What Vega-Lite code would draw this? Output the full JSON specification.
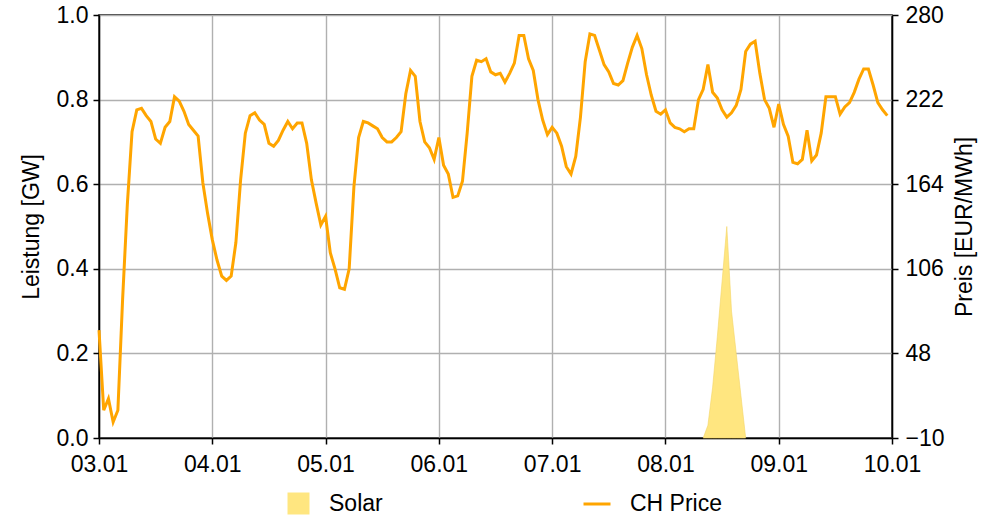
{
  "$schema": "https://vega.github.io/schema/vega-lite/v6.json",
  "width": 793,
  "height": 423,
  "autosize": {"type": "none"},
  "padding": {"left": 99, "top": 15, "right": 101, "bottom": 84},
  "background": "white",
  "config": {
    "font": "Liberation Sans",
    "view": {"stroke": "black", "strokeWidth": 1.5},
    "axis": {
      "labelFont": "Liberation Sans",
      "titleFont": "Liberation Sans",
      "labelFontSize": 23,
      "labelColor": "black",
      "titleFontSize": 23,
      "titleFontWeight": "normal",
      "titleColor": "black",
      "domainColor": "black",
      "domainWidth": 1.5,
      "tickColor": "black",
      "tickWidth": 1.5,
      "tickSize": 6,
      "gridColor": "#b0b0b0",
      "gridWidth": 1.4,
      "gridOpacity": 1
    },
    "legend": {
      "labelFont": "Liberation Sans",
      "labelFontSize": 23,
      "labelColor": "black",
      "padding": 0
    }
  },
  "datasets": {
    "solar": [
      {"time": "2025-01-08T08:00:00Z", "solar": 0},
      {"time": "2025-01-08T09:00:00Z", "solar": 0.03},
      {"time": "2025-01-08T10:00:00Z", "solar": 0.12},
      {"time": "2025-01-08T11:00:00Z", "solar": 0.24},
      {"time": "2025-01-08T12:00:00Z", "solar": 0.37},
      {"time": "2025-01-08T13:00:00Z", "solar": 0.5},
      {"time": "2025-01-08T14:00:00Z", "solar": 0.3},
      {"time": "2025-01-08T15:00:00Z", "solar": 0.2},
      {"time": "2025-01-08T16:00:00Z", "solar": 0.1},
      {"time": "2025-01-08T17:00:00Z", "solar": 0}
    ],
    "price": [
      {"time": "2025-01-03T00:00:00Z", "price": 64},
      {"time": "2025-01-03T01:00:00Z", "price": 9},
      {"time": "2025-01-03T02:00:00Z", "price": 17},
      {"time": "2025-01-03T03:00:00Z", "price": 1},
      {"time": "2025-01-03T04:00:00Z", "price": 9},
      {"time": "2025-01-03T05:00:00Z", "price": 85},
      {"time": "2025-01-03T06:00:00Z", "price": 150},
      {"time": "2025-01-03T07:00:00Z", "price": 200},
      {"time": "2025-01-03T08:00:00Z", "price": 215},
      {"time": "2025-01-03T09:00:00Z", "price": 216},
      {"time": "2025-01-03T10:00:00Z", "price": 211},
      {"time": "2025-01-03T11:00:00Z", "price": 207},
      {"time": "2025-01-03T12:00:00Z", "price": 195},
      {"time": "2025-01-03T13:00:00Z", "price": 192},
      {"time": "2025-01-03T14:00:00Z", "price": 203},
      {"time": "2025-01-03T15:00:00Z", "price": 207},
      {"time": "2025-01-03T16:00:00Z", "price": 224},
      {"time": "2025-01-03T17:00:00Z", "price": 221},
      {"time": "2025-01-03T18:00:00Z", "price": 214},
      {"time": "2025-01-03T19:00:00Z", "price": 205},
      {"time": "2025-01-03T20:00:00Z", "price": 201},
      {"time": "2025-01-03T21:00:00Z", "price": 197},
      {"time": "2025-01-03T22:00:00Z", "price": 165},
      {"time": "2025-01-03T23:00:00Z", "price": 144},
      {"time": "2025-01-04T00:00:00Z", "price": 126},
      {"time": "2025-01-04T01:00:00Z", "price": 112},
      {"time": "2025-01-04T02:00:00Z", "price": 101},
      {"time": "2025-01-04T03:00:00Z", "price": 98},
      {"time": "2025-01-04T04:00:00Z", "price": 101},
      {"time": "2025-01-04T05:00:00Z", "price": 124},
      {"time": "2025-01-04T06:00:00Z", "price": 167},
      {"time": "2025-01-04T07:00:00Z", "price": 199},
      {"time": "2025-01-04T08:00:00Z", "price": 211},
      {"time": "2025-01-04T09:00:00Z", "price": 213},
      {"time": "2025-01-04T10:00:00Z", "price": 208},
      {"time": "2025-01-04T11:00:00Z", "price": 205},
      {"time": "2025-01-04T12:00:00Z", "price": 192},
      {"time": "2025-01-04T13:00:00Z", "price": 190},
      {"time": "2025-01-04T14:00:00Z", "price": 194},
      {"time": "2025-01-04T15:00:00Z", "price": 201},
      {"time": "2025-01-04T16:00:00Z", "price": 207},
      {"time": "2025-01-04T17:00:00Z", "price": 202},
      {"time": "2025-01-04T18:00:00Z", "price": 206},
      {"time": "2025-01-04T19:00:00Z", "price": 206},
      {"time": "2025-01-04T20:00:00Z", "price": 192},
      {"time": "2025-01-04T21:00:00Z", "price": 167},
      {"time": "2025-01-04T22:00:00Z", "price": 151},
      {"time": "2025-01-04T23:00:00Z", "price": 136},
      {"time": "2025-01-05T00:00:00Z", "price": 142},
      {"time": "2025-01-05T01:00:00Z", "price": 117},
      {"time": "2025-01-05T02:00:00Z", "price": 106},
      {"time": "2025-01-05T03:00:00Z", "price": 93},
      {"time": "2025-01-05T04:00:00Z", "price": 92},
      {"time": "2025-01-05T05:00:00Z", "price": 106},
      {"time": "2025-01-05T06:00:00Z", "price": 162},
      {"time": "2025-01-05T07:00:00Z", "price": 196},
      {"time": "2025-01-05T08:00:00Z", "price": 207},
      {"time": "2025-01-05T09:00:00Z", "price": 206},
      {"time": "2025-01-05T10:00:00Z", "price": 204},
      {"time": "2025-01-05T11:00:00Z", "price": 202},
      {"time": "2025-01-05T12:00:00Z", "price": 196},
      {"time": "2025-01-05T13:00:00Z", "price": 193},
      {"time": "2025-01-05T14:00:00Z", "price": 193},
      {"time": "2025-01-05T15:00:00Z", "price": 196},
      {"time": "2025-01-05T16:00:00Z", "price": 200},
      {"time": "2025-01-05T17:00:00Z", "price": 226},
      {"time": "2025-01-05T18:00:00Z", "price": 242},
      {"time": "2025-01-05T19:00:00Z", "price": 238},
      {"time": "2025-01-05T20:00:00Z", "price": 207},
      {"time": "2025-01-05T21:00:00Z", "price": 193},
      {"time": "2025-01-05T22:00:00Z", "price": 189},
      {"time": "2025-01-05T23:00:00Z", "price": 181},
      {"time": "2025-01-06T00:00:00Z", "price": 196},
      {"time": "2025-01-06T01:00:00Z", "price": 177},
      {"time": "2025-01-06T02:00:00Z", "price": 171},
      {"time": "2025-01-06T03:00:00Z", "price": 155},
      {"time": "2025-01-06T04:00:00Z", "price": 156},
      {"time": "2025-01-06T05:00:00Z", "price": 166},
      {"time": "2025-01-06T06:00:00Z", "price": 199},
      {"time": "2025-01-06T07:00:00Z", "price": 238},
      {"time": "2025-01-06T08:00:00Z", "price": 249},
      {"time": "2025-01-06T09:00:00Z", "price": 248},
      {"time": "2025-01-06T10:00:00Z", "price": 250},
      {"time": "2025-01-06T11:00:00Z", "price": 241},
      {"time": "2025-01-06T12:00:00Z", "price": 239},
      {"time": "2025-01-06T13:00:00Z", "price": 240},
      {"time": "2025-01-06T14:00:00Z", "price": 234},
      {"time": "2025-01-06T15:00:00Z", "price": 240},
      {"time": "2025-01-06T16:00:00Z", "price": 247},
      {"time": "2025-01-06T17:00:00Z", "price": 266},
      {"time": "2025-01-06T18:00:00Z", "price": 266},
      {"time": "2025-01-06T19:00:00Z", "price": 250},
      {"time": "2025-01-06T20:00:00Z", "price": 242},
      {"time": "2025-01-06T21:00:00Z", "price": 222},
      {"time": "2025-01-06T22:00:00Z", "price": 208},
      {"time": "2025-01-06T23:00:00Z", "price": 198},
      {"time": "2025-01-07T00:00:00Z", "price": 203},
      {"time": "2025-01-07T01:00:00Z", "price": 199},
      {"time": "2025-01-07T02:00:00Z", "price": 190},
      {"time": "2025-01-07T03:00:00Z", "price": 176},
      {"time": "2025-01-07T04:00:00Z", "price": 171},
      {"time": "2025-01-07T05:00:00Z", "price": 183},
      {"time": "2025-01-07T06:00:00Z", "price": 210},
      {"time": "2025-01-07T07:00:00Z", "price": 248},
      {"time": "2025-01-07T08:00:00Z", "price": 267},
      {"time": "2025-01-07T09:00:00Z", "price": 266},
      {"time": "2025-01-07T10:00:00Z", "price": 256},
      {"time": "2025-01-07T11:00:00Z", "price": 246},
      {"time": "2025-01-07T12:00:00Z", "price": 241},
      {"time": "2025-01-07T13:00:00Z", "price": 233},
      {"time": "2025-01-07T14:00:00Z", "price": 232},
      {"time": "2025-01-07T15:00:00Z", "price": 235},
      {"time": "2025-01-07T16:00:00Z", "price": 247},
      {"time": "2025-01-07T17:00:00Z", "price": 258},
      {"time": "2025-01-07T18:00:00Z", "price": 266},
      {"time": "2025-01-07T19:00:00Z", "price": 257},
      {"time": "2025-01-07T20:00:00Z", "price": 239},
      {"time": "2025-01-07T21:00:00Z", "price": 225},
      {"time": "2025-01-07T22:00:00Z", "price": 214},
      {"time": "2025-01-07T23:00:00Z", "price": 212},
      {"time": "2025-01-08T00:00:00Z", "price": 215},
      {"time": "2025-01-08T01:00:00Z", "price": 206},
      {"time": "2025-01-08T02:00:00Z", "price": 203},
      {"time": "2025-01-08T03:00:00Z", "price": 202},
      {"time": "2025-01-08T04:00:00Z", "price": 200},
      {"time": "2025-01-08T05:00:00Z", "price": 202},
      {"time": "2025-01-08T06:00:00Z", "price": 202},
      {"time": "2025-01-08T07:00:00Z", "price": 222},
      {"time": "2025-01-08T08:00:00Z", "price": 229},
      {"time": "2025-01-08T09:00:00Z", "price": 246},
      {"time": "2025-01-08T10:00:00Z", "price": 227},
      {"time": "2025-01-08T11:00:00Z", "price": 223},
      {"time": "2025-01-08T12:00:00Z", "price": 215},
      {"time": "2025-01-08T13:00:00Z", "price": 210},
      {"time": "2025-01-08T14:00:00Z", "price": 213},
      {"time": "2025-01-08T15:00:00Z", "price": 218},
      {"time": "2025-01-08T16:00:00Z", "price": 229},
      {"time": "2025-01-08T17:00:00Z", "price": 255},
      {"time": "2025-01-08T18:00:00Z", "price": 260},
      {"time": "2025-01-08T19:00:00Z", "price": 262},
      {"time": "2025-01-08T20:00:00Z", "price": 240},
      {"time": "2025-01-08T21:00:00Z", "price": 222},
      {"time": "2025-01-08T22:00:00Z", "price": 216},
      {"time": "2025-01-08T23:00:00Z", "price": 203},
      {"time": "2025-01-09T00:00:00Z", "price": 219},
      {"time": "2025-01-09T01:00:00Z", "price": 205},
      {"time": "2025-01-09T02:00:00Z", "price": 197},
      {"time": "2025-01-09T03:00:00Z", "price": 179},
      {"time": "2025-01-09T04:00:00Z", "price": 178},
      {"time": "2025-01-09T05:00:00Z", "price": 181},
      {"time": "2025-01-09T06:00:00Z", "price": 201},
      {"time": "2025-01-09T07:00:00Z", "price": 180},
      {"time": "2025-01-09T08:00:00Z", "price": 184},
      {"time": "2025-01-09T09:00:00Z", "price": 199},
      {"time": "2025-01-09T10:00:00Z", "price": 224},
      {"time": "2025-01-09T11:00:00Z", "price": 224},
      {"time": "2025-01-09T12:00:00Z", "price": 224},
      {"time": "2025-01-09T13:00:00Z", "price": 212},
      {"time": "2025-01-09T14:00:00Z", "price": 217},
      {"time": "2025-01-09T15:00:00Z", "price": 220},
      {"time": "2025-01-09T16:00:00Z", "price": 227},
      {"time": "2025-01-09T17:00:00Z", "price": 236},
      {"time": "2025-01-09T18:00:00Z", "price": 243},
      {"time": "2025-01-09T19:00:00Z", "price": 243},
      {"time": "2025-01-09T20:00:00Z", "price": 232},
      {"time": "2025-01-09T21:00:00Z", "price": 220},
      {"time": "2025-01-09T22:00:00Z", "price": 215},
      {"time": "2025-01-09T23:00:00Z", "price": 211}
    ]
  },
  "layer": [
    {
      "data": {"name": "solar"},
      "mark": {"type": "area", "stroke": "#f3d567", "strokeWidth": 0.6, "interpolate": "linear"},
      "encoding": {
        "x": {
          "field": "time",
          "type": "temporal",
          "scale": {
            "type": "utc",
            "domain": [
              {"year": 2025, "month": 1, "date": 3, "utc": true},
              {"year": 2025, "month": 1, "date": 10, "utc": true}
            ]
          },
          "axis": {
            "title": null,
            "format": "%d.%m",
            "values": [
              {"year": 2025, "month": 1, "date": 3, "utc": true},
              {"year": 2025, "month": 1, "date": 4, "utc": true},
              {"year": 2025, "month": 1, "date": 5, "utc": true},
              {"year": 2025, "month": 1, "date": 6, "utc": true},
              {"year": 2025, "month": 1, "date": 7, "utc": true},
              {"year": 2025, "month": 1, "date": 8, "utc": true},
              {"year": 2025, "month": 1, "date": 9, "utc": true},
              {"year": 2025, "month": 1, "date": 10, "utc": true}
            ],
            "grid": true,
            "labelPadding": 9,
            "labelFlush": false
          }
        },
        "y": {
          "field": "solar",
          "type": "quantitative",
          "scale": {"domain": [0, 1], "nice": false},
          "axis": {
            "title": "Leistung [GW]",
            "values": [0, 0.2, 0.4, 0.6, 0.8, 1.0],
            "format": ".1f",
            "grid": true,
            "labelPadding": 5,
            "titlePadding": 13
          }
        },
        "fill": {
          "datum": "Solar",
          "type": "nominal",
          "scale": {"domain": ["Solar"], "range": ["#ffe680"]},
          "legend": {
            "title": null,
            "orient": "none",
            "legendX": 188,
            "legendY": 477,
            "symbolType": "square",
            "symbolSize": 484,
            "symbolStrokeWidth": 0,
            "symbolOpacity": 1,
            "labelOffset": 19
          }
        }
      }
    },
    {
      "data": {"name": "price"},
      "mark": {"type": "line", "strokeWidth": 3, "interpolate": "linear"},
      "encoding": {
        "x": {"field": "time", "type": "temporal"},
        "y": {
          "field": "price",
          "type": "quantitative",
          "scale": {"domain": [-10, 280], "nice": false, "zero": false},
          "axis": {
            "orient": "right",
            "title": "Preis [EUR/MWh]",
            "values": [-10, 48, 106, 164, 222, 280],
            "labelExpr": "datum.value < 0 ? '\u2212' + abs(datum.value) : datum.label",
            "grid": false,
            "labelPadding": 7,
            "titlePadding": 9,
            "titleAngle": 270,
            "titleBaseline": "top"
          }
        },
        "stroke": {
          "datum": "CH Price",
          "type": "nominal",
          "scale": {"domain": ["CH Price"], "range": ["orange"]},
          "legend": {
            "title": null,
            "orient": "none",
            "legendX": 483,
            "legendY": 474,
            "symbolType": "stroke",
            "symbolSize": 729,
            "symbolStrokeWidth": 3,
            "labelOffset": 18
          }
        }
      }
    }
  ],
  "resolve": {"scale": {"y": "independent"}}
}
